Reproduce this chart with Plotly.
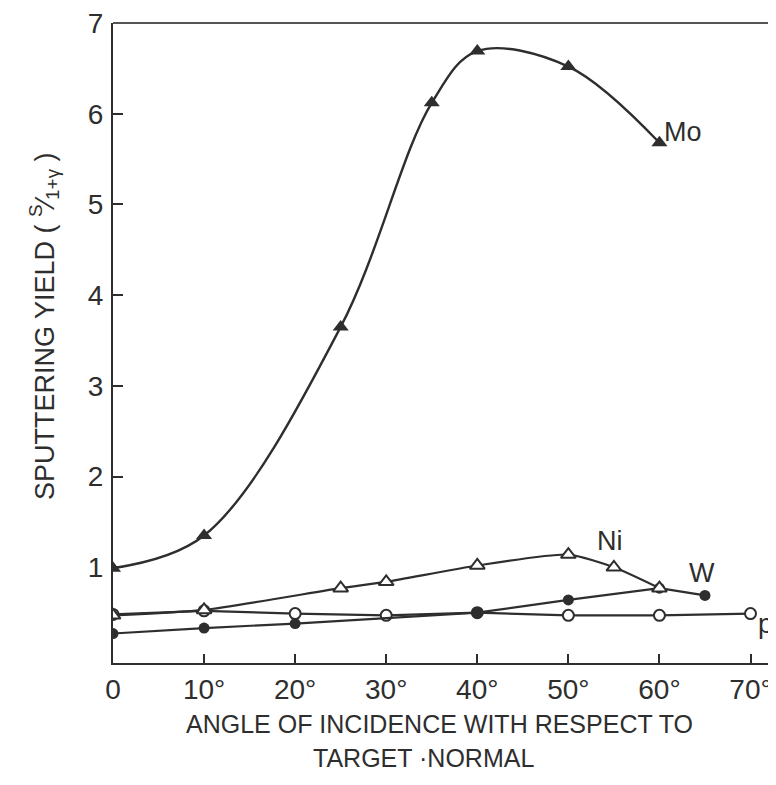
import plotly.graph_objects as go

# Data
mo_x = [0, 10, 25, 35, 40, 50, 60]
mo_y = [0.99, 1.35, 3.65, 6.12, 6.69, 6.52, 5.68]

ni_x = [0, 10, 25, 30, 40, 50, 55, 60]
ni_y = [0.47, 0.53, 0.77, 0.84, 1.02, 1.14, 1.0, 0.77]

w_x = [0, 10, 20, 40, 50, 60, 65]
w_y = [0.27, 0.33, 0.38, 0.50, 0.64, 0.77, 0.69]

p_x = [0, 10, 20, 30, 40, 50, 60, 70]
p_y = [0.48, 0.52, 0.49, 0.47, 0.50, 0.47, 0.47, 0.49]

x_tickvals = [0, 10, 20, 30, 40, 50, 60, 70]
x_ticktext = ["0", "10°", "20°", "30°", "40°", "50°", "60°", "70°"]
y_tickvals = [1, 2, 3, 4, 5, 6, 7]
y_ticktext = ["1", "2", "3", "4", "5", "6", "7"]

labels = [("Mo", 62.6, 5.80), ("Ni", 54.6, 1.29), ("W", 64.7, 0.94), ("p", 71.7, 0.37)]

INK = "#2e2e2e"
FONT = "Liberation Sans, Arial, sans-serif"

fig = go.Figure()
fig.add_trace(go.Scatter(x=p_x, y=p_y, mode="lines+markers",
                         line=dict(color=INK, width=2.2),
                         marker=dict(symbol="circle", size=11, color="white",
                                     line=dict(color=INK, width=2))))
fig.add_trace(go.Scatter(x=w_x, y=w_y, mode="lines+markers",
                         line=dict(color=INK, width=2.2),
                         marker=dict(symbol="circle", size=11, color=INK)))
fig.add_trace(go.Scatter(x=ni_x, y=ni_y, mode="lines+markers",
                         line=dict(color=INK, width=2.2, shape="spline", smoothing=0.6),
                         marker=dict(symbol="triangle-up", size=13, color="white",
                                     line=dict(color=INK, width=2))))
fig.add_trace(go.Scatter(x=mo_x, y=mo_y, mode="lines+markers",
                         line=dict(color=INK, width=2.4, shape="spline", smoothing=1.0),
                         marker=dict(symbol="triangle-up", size=14, color=INK)))

for txt, lx, ly in labels:
    fig.add_annotation(x=lx, y=ly, text=txt, showarrow=False,
                       font=dict(family=FONT, size=27, color=INK))

# y axis title
fig.add_annotation(xref="paper", yref="paper", x=-0.103, y=0.526,
                   xanchor="center", yanchor="middle", textangle=-90,
                   text="SPUTTERING YIELD ( <sup>S</sup>⁄<sub>1+γ</sub> )",
                   showarrow=False, font=dict(family=FONT, size=27, color=INK))
# x axis title (two lines)
fig.add_annotation(xref="paper", yref="paper", x=0.493, y=-0.095,
                   xanchor="center", yanchor="middle",
                   text="ANGLE OF INCIDENCE WITH RESPECT TO",
                   showarrow=False, font=dict(family=FONT, size=25, color=INK))
fig.add_annotation(xref="paper", yref="paper", x=0.469, y=-0.148,
                   xanchor="center", yanchor="middle",
                   text="TARGET ·NORMAL",
                   showarrow=False, font=dict(family=FONT, size=25, color=INK))

# top border line
fig.add_shape(type="line", xref="paper", yref="paper", x0=0, x1=1, y0=1, y1=1,
              line=dict(color="#555555", width=2))

fig.update_xaxes(range=[0, 72.8], tickvals=x_tickvals, ticktext=x_ticktext,
                 ticks="inside", ticklen=9, tickwidth=1.5, tickcolor=INK,
                 showline=True, linecolor=INK, linewidth=2.2,
                 showgrid=False, zeroline=False, ticklabelstandoff=0,
                 ticklabeloverflow="allow",
                 tickfont=dict(family=FONT, size=28, color=INK))
fig.update_yaxes(range=[-0.055, 7.0], tickvals=y_tickvals, ticktext=y_ticktext,
                 ticks="inside", ticklen=10, tickwidth=1.5, tickcolor=INK,
                 showline=True, linecolor=INK, linewidth=2.2,
                 showgrid=False, zeroline=False, ticklabelstandoff=2,
                 ticklabeloverflow="allow",
                 tickfont=dict(family=FONT, size=28, color=INK))

# page body has an 8px margin: figure is 768x777 so it fills the 776x785 window
fig.update_layout(width=768, height=777, showlegend=False,
                  margin=dict(l=105, r=0, t=12, b=122),
                  plot_bgcolor="white", paper_bgcolor="white")

fig.write_html("out.html")
